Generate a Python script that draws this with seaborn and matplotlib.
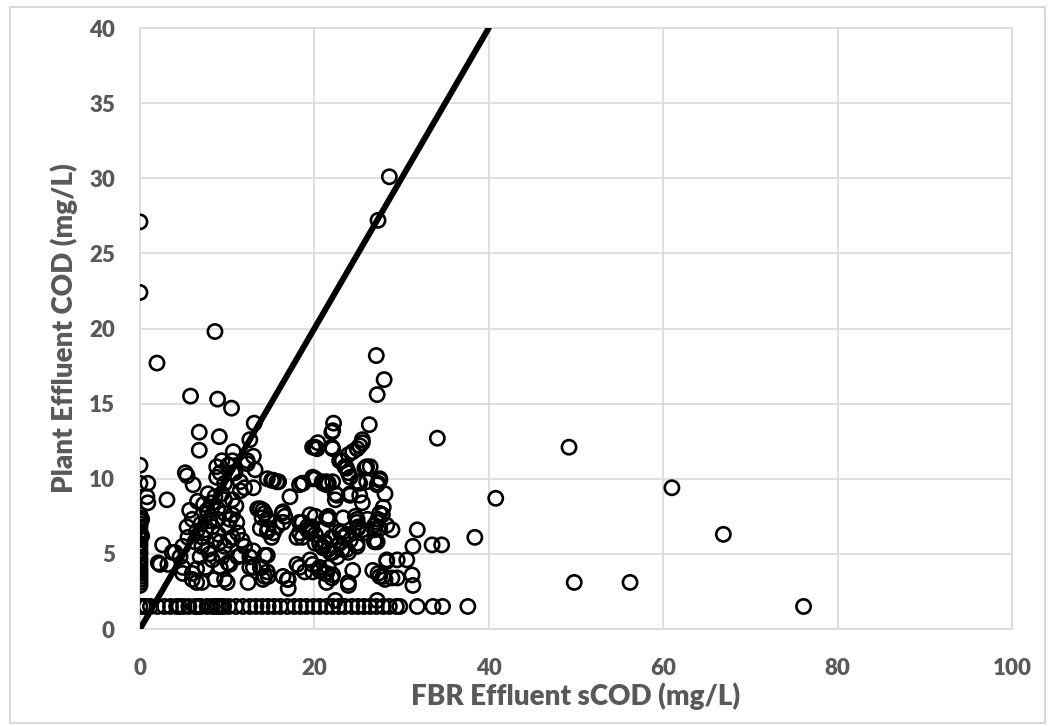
import numpy as np
import seaborn as sns
import matplotlib.pyplot as plt
from matplotlib.patches import Rectangle

# FBR effluent sCOD (x) vs plant effluent COD (y), mg/L
# samples sitting on x = 0
zero_x_y = [2.9, 3.1, 3.3, 3.5, 3.7, 3.9, 4.1, 4.3, 4.5, 4.7, 5.0, 5.2, 5.5,
            5.7, 6.0, 6.3, 6.5, 6.8, 7.0, 7.2, 7.4, 7.6, 9.7, 10.9, 22.4, 27.1]
near_zero_x = [0.2, 0.2]
near_zero_y = [6.2, 7.3]

# samples at the plant effluent floor (1.5 mg/L)
floor_x = [0, 0.4, 0.7, 1.2, 2.0, 2.8, 3.5, 4.2, 4.5, 5.0, 5.6, 6.3, 6.6, 7.0,
           7.7, 8.3, 8.7, 9.0, 9.3, 9.6, 10.2, 11.0, 11.8, 12.6, 13.3, 14.0,
           14.7, 15.4, 16.1, 16.9, 17.7, 18.4, 19.1, 19.9, 20.6, 21.4, 22.1,
           22.8, 23.5, 24.3, 25.0, 25.7, 26.4, 27.1, 27.9, 28.6, 29.4, 29.8,
           31.8, 33.6, 34.7, 37.6, 76.1]
floor_y = 1.5

# everything else
cloud_x = [1.95, 8.6, 5.8, 8.9, 10.5, 13.1, 27.3, 28.6, 27.1, 28.0, 27.2, 34.1,
           49.2, 40.8, 61.0, 66.9, 38.4, 49.8, 56.2,
           6.8, 9.1, 6.8, 12.6, 10.7, 13.0, 5.2, 5.4, 6.1, 8.8, 9.2, 12.3, 0.9,
           0.8, 0.9, 3.1, 14.6, 15.3, 15.9, 18.3, 17.2, 19.8,
           13.8, 14.3, 14.6, 16.4, 16.6, 15.7, 15.3, 14.6, 18.3, 19.2, 19.7, 18.0,
           2.6, 3.7, 4.0, 2.3, 4.9, 4.9, 6.0, 7.1, 8.6, 10.0, 12.4, 14.1, 14.7,
           16.4, 17.0, 17.0, 13.0, 13.8, 14.6, 10.3, 11.5, 13.0, 14.6, 6.5, 7.5, 9.2,
           9.4, 10.1, 8.8, 9.7, 10.6, 7.8, 8.6, 9.4, 9.7, 10.6, 8.3, 7.7, 7.8,
           5.7, 6.0, 5.4, 5.5, 4.9, 4.6, 6.5, 7.2, 8.3, 8.9, 9.7, 10.1, 10.6,
           7.1, 7.8, 8.6, 9.7, 6.9, 8.3, 9.4, 10.1, 2.1, 3.2, 6.5, 9.7, 6.0,
           7.0, 7.5, 8.0, 9.0, 6.3, 8.0, 9.2, 7.3, 8.9, 10.3, 11.0, 11.5, 6.6,
           12.3, 13.2, 10.6, 10.9, 11.5, 12.0, 13.0, 15.1, 15.7, 18.6, 20.1, 20.9,
           21.4, 22.1, 20.1, 20.4, 22.0, 22.0, 13.5, 14.1, 14.0, 16.3, 16.4, 13.8,
           14.7, 15.1, 10.6, 11.1, 11.2, 10.3, 11.7, 12.0, 18.6, 19.5, 18.6, 19.5,
           20.1, 21.0, 21.6, 20.1, 20.9, 21.2, 21.6, 22.0, 11.2, 12.6, 14.3, 12.6,
           14.0, 14.3, 16.9, 18.0, 18.9, 19.8, 20.6, 21.2, 21.6, 22.1,
           22.2, 22.1, 26.3, 20.3, 19.8, 22.1, 25.5, 25.2, 24.9, 24.4, 23.9, 22.9,
           23.5, 23.9, 24.1, 25.8, 26.4, 27.5, 27.3, 27.2, 19.8, 21.0, 21.4, 18.7,
           25.2, 26.0, 22.4, 22.4, 24.1, 25.2, 25.5, 28.1, 27.9, 27.5, 27.2, 26.9,
           27.2, 20.1, 21.4, 23.3, 24.9, 25.0, 18.3, 19.2, 19.7, 22.9, 23.7, 25.5,
           26.0, 27.5, 28.3, 20.6, 21.0, 21.8, 22.6, 23.7, 24.9, 26.9, 31.8, 31.3,
           33.5, 34.6, 19.5, 18.3, 19.8, 20.6, 21.4, 22.0, 23.9, 24.4, 26.7, 27.5,
           28.1, 28.9, 29.5, 28.3, 29.5, 30.6, 31.2, 31.3, 27.2, 22.4,
           23.2, 23.7, 25.5, 26.0, 27.5, 25.0, 21.6, 22.6, 24.1, 27.8, 27.3, 26.9,
           21.6, 24.7, 24.9, 25.0, 26.1, 23.2, 23.3, 24.1, 22.9, 21.2, 22.1, 23.2,
           23.9, 24.9, 26.9, 28.9, 27.3, 28.3, 27.9, 21.4, 23.9]
cloud_y = [17.7, 19.8, 15.5, 15.3, 14.7, 13.7, 27.2, 30.1, 18.2, 16.6, 15.6, 12.7,
           12.1, 8.7, 9.4, 6.3, 6.1, 3.1, 3.1,
           13.1, 12.8, 11.9, 12.6, 11.8, 11.5, 10.4, 10.2, 9.6, 10.8, 10.4, 11.0, 9.7,
           8.8, 8.4, 8.6, 10.0, 9.9, 9.8, 9.6, 8.8, 10.0,
           8.0, 7.7, 7.3, 7.8, 7.5, 6.8, 6.4, 6.5, 6.4, 6.6, 6.8, 6.1,
           5.6, 5.1, 5.1, 4.3, 4.1, 3.7, 3.3, 3.1, 3.3, 3.1, 3.1, 3.3, 3.5,
           3.5, 3.3, 2.7, 4.1, 4.1, 3.8, 4.3, 4.9, 5.2, 4.9, 4.0, 4.1, 4.1,
           11.2, 10.9, 10.1, 9.7, 10.4, 9.0, 8.8, 9.0, 8.6, 8.6, 8.4, 7.9, 7.7,
           7.9, 7.3, 6.8, 6.1, 5.5, 4.8, 6.5, 6.1, 6.8, 7.3, 7.7, 6.8, 6.1,
           5.5, 5.3, 5.9, 5.5, 4.8, 4.6, 4.8, 4.4, 4.4, 4.3, 3.1, 3.3, 3.7,
           7.0, 6.6, 7.2, 6.3, 5.8, 5.0, 5.8, 8.3, 8.0, 7.3, 8.2, 9.2, 8.5,
           11.2, 10.6, 11.2, 10.4, 9.8, 9.4, 9.4, 9.9, 9.8, 9.7, 10.0, 9.8,
           9.6, 9.8, 12.1, 12.4, 12.1, 13.1, 8.0, 7.9, 7.4, 7.7, 7.1, 6.7,
           6.7, 6.1, 7.6, 7.1, 6.4, 5.9, 5.9, 5.5, 7.1, 7.6, 6.1, 6.4,
           6.3, 6.6, 7.3, 5.7, 5.5, 5.8, 5.3, 6.1, 4.8, 4.8, 4.9, 4.1,
           4.1, 3.5, 3.3, 4.3, 3.8, 4.3, 3.9, 3.7, 4.1, 3.6,
           13.7, 13.2, 13.6, 12.0, 12.1, 12.0, 12.6, 12.2, 12.0, 11.8, 11.6, 11.2,
           10.8, 10.4, 10.1, 10.7, 10.8, 9.9, 9.7, 9.6, 10.1, 9.7, 9.8, 9.7,
           9.7, 9.8, 9.0, 8.6, 9.0, 8.9, 8.4, 9.0, 8.1, 7.7, 7.1, 6.6,
           5.8, 7.5, 7.4, 7.4, 7.3, 6.8, 7.1, 6.8, 6.6, 6.5, 6.3, 6.6,
           6.4, 6.7, 6.9, 5.7, 5.4, 5.1, 4.8, 5.3, 5.5, 5.8, 6.6, 5.5,
           5.6, 5.6, 4.6, 4.1, 3.8, 4.1, 3.7, 3.4, 2.9, 3.9, 3.9, 3.5,
           3.3, 3.4, 3.4, 4.6, 4.6, 4.6, 3.6, 2.9, 1.9, 1.9,
           11.2, 10.7, 12.4, 10.8, 10.0, 9.8, 9.7, 8.9, 8.9, 7.6, 7.3, 6.9,
           7.5, 7.5, 7.1, 6.7, 7.3, 6.4, 6.1, 5.9, 5.7, 5.7, 5.1, 5.3,
           5.1, 5.7, 5.9, 6.6, 3.7, 4.5, 3.5, 3.1, 3.1]

# 1:1 reference line
one_to_one_x = [0, 40]
one_to_one_y = [0, 40]

fbr_scod = np.concatenate([np.zeros(len(zero_x_y)), near_zero_x, floor_x, cloud_x])
plant_cod = np.concatenate([zero_x_y, near_zero_y, np.full(len(floor_x), floor_y), cloud_y])

grey_text = '#595959'
grid_col = '#D9D9D9'

sns.set_style('white')
plt.rcParams['font.family'] = ['Lato', 'DejaVu Sans']

fig, ax = plt.subplots(figsize=(10.5, 7.26), dpi=100)
fig.subplots_adjust(left=0.1333, right=0.9638, top=0.9614, bottom=0.1336)

sns.scatterplot(x=fbr_scod, y=plant_cod, ax=ax, marker='o', s=105,
                facecolors='none', edgecolor='black', linewidth=1.9, zorder=3)
sns.lineplot(x=one_to_one_x, y=one_to_one_y, ax=ax, color='black',
             linewidth=4.3, zorder=4)

ax.set_xlim(0, 100)
ax.set_ylim(0, 40)
ax.set_xticks(range(0, 101, 20))
ax.set_yticks(range(0, 41, 5))
ax.grid(True, color=grid_col, linewidth=1.2)
ax.set_axisbelow(True)
for side in ax.spines.values():
    side.set_color(grid_col)
    side.set_linewidth(1.2)

ax.tick_params(axis='both', length=0, labelsize=16, labelcolor=grey_text)
ax.tick_params(axis='x', pad=21)
ax.tick_params(axis='y', pad=18)
for lab in ax.get_xticklabels() + ax.get_yticklabels():
    lab.set_fontweight('heavy')

ax.set_xlabel('FBR Effluent sCOD (mg/L)', fontsize=20, fontweight='heavy',
              color=grey_text)
ax.set_ylabel('Plant Effluent COD (mg/L)', fontsize=20, fontweight='heavy',
              color=grey_text)
ax.xaxis.set_label_coords(0.5, -0.088)
ax.yaxis.set_label_coords(-0.071, 0.5)

# light chart-area border
fig.patches.append(Rectangle((0.0095, 0.004), 0.986, 0.987, transform=fig.transFigure,
                             fill=False, edgecolor=grid_col, linewidth=1.5))

fig.savefig('out.png', dpi=100)
